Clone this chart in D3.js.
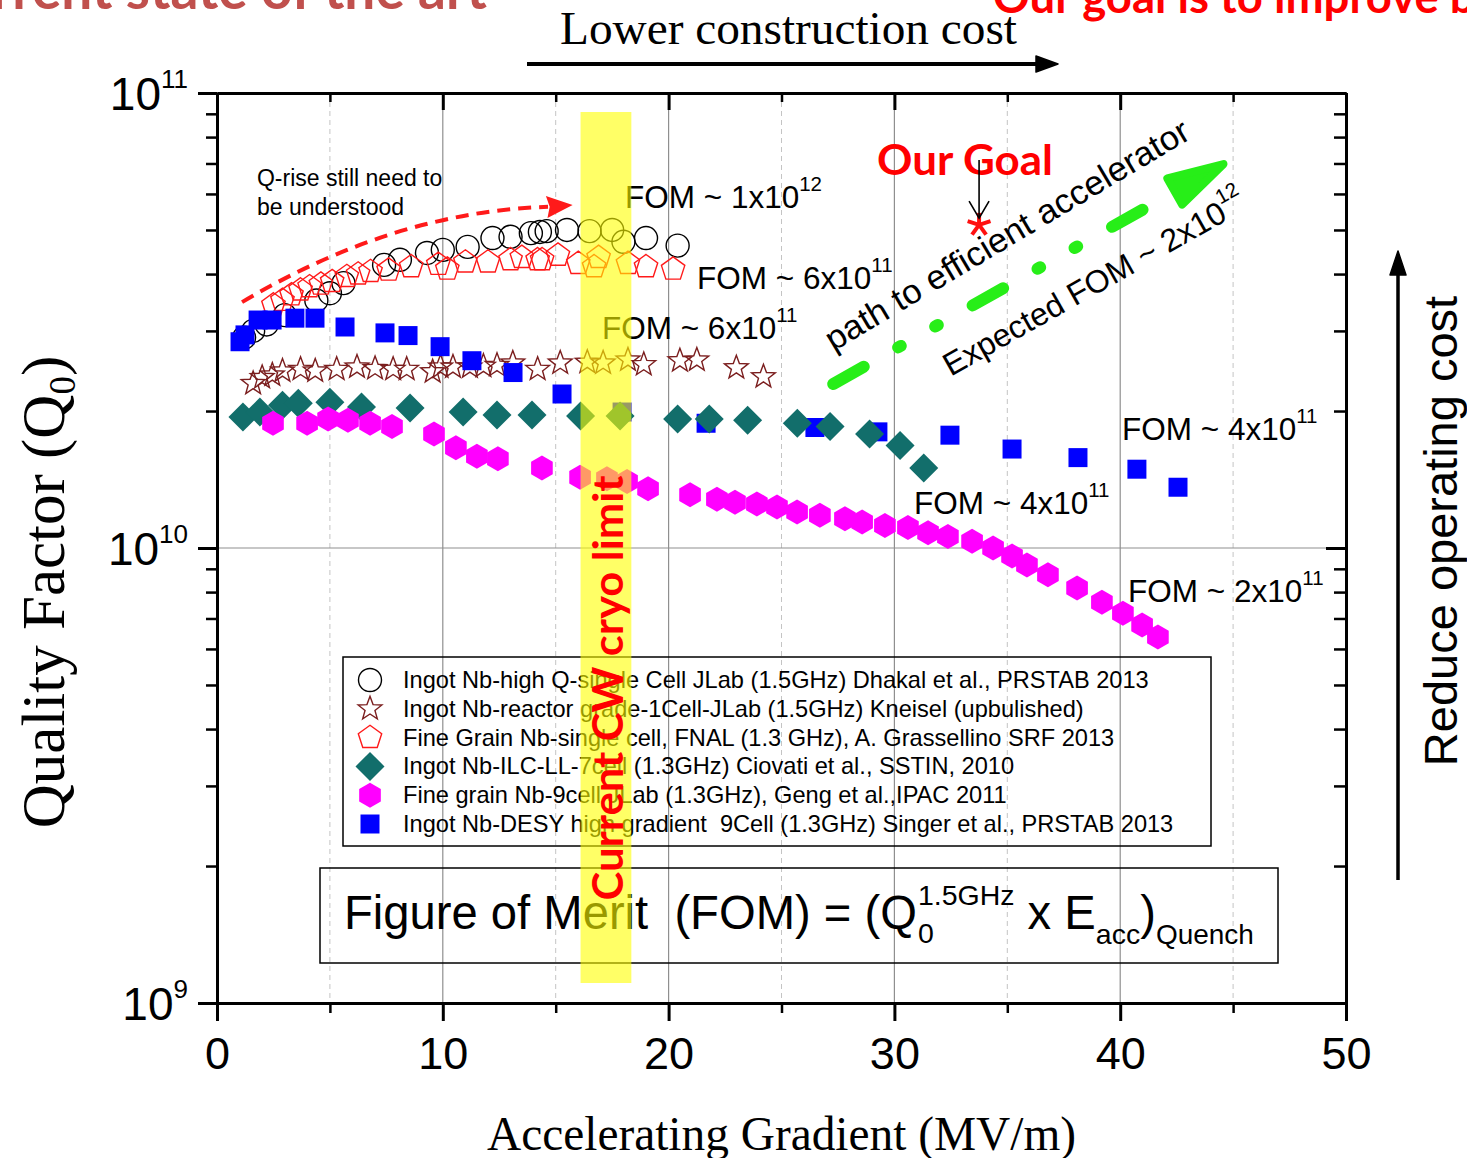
<!DOCTYPE html>
<html><head><meta charset="utf-8">
<script src="https://cdn.jsdelivr.net/npm/d3@7"></script>
<style>body{margin:0;background:#fff;overflow:hidden} svg{display:block}</style>
</head><body>
<svg id="c" width="1467" height="1158"></svg>
<script>
// ---------------- DATA ----------------
const dhakalX = [1.2, 1.6, 2.2, 3.0, 4.4, 5.0, 5.6, 7.4, 8.1, 9.3, 10.0, 11.1, 12.2, 13.0, 13.9, 14.3, 14.6, 15.5, 16.5, 17.5, 18.0, 19.0, 20.4];
const dhakalQ = [2.9e10, 3.0e10, 3.1e10, 3.25e10, 3.5e10, 3.63e10, 3.82e10, 4.19e10, 4.3e10, 4.45e10, 4.52e10, 4.59e10, 4.8e10, 4.83e10, 4.92e10, 4.95e10, 4.97e10, 5.0e10, 4.97e10, 5.0e10, 4.71e10, 4.8e10, 4.62e10];

const grassX = [2.5, 2.9, 3.3, 3.7, 4.1, 4.6, 5.1, 5.75, 6.25, 6.8, 7.6, 8.6, 9.8, 10.2, 11.0, 12.0, 13.0, 13.5, 14.2, 14.4, 15.1, 16.0, 16.7, 16.9, 18.2, 19.0, 20.2];
const grassQ = [3.42e10, 3.5e10, 3.6e10, 3.69e10, 3.75e10, 3.8e10, 3.85e10, 3.95e10, 4.0e10, 4.05e10, 4.08e10, 4.15e10, 4.2e10, 4.1e10, 4.25e10, 4.25e10, 4.3e10, 4.35e10, 4.3e10, 4.3e10, 4.4e10, 4.22e10, 4.15e10, 4.35e10, 4.22e10, 4.15e10, 4.1e10];

const kneiselX = [1.6, 2.0, 2.45, 2.9, 3.7, 4.35, 5.3, 6.2, 7.0, 7.8, 8.4, 9.55, 9.9, 10.45, 11.2, 11.8, 12.4, 13.1, 14.2, 15.2, 16.4, 17.1, 18.2, 18.9, 20.5, 21.25, 23.0, 24.2];
const kneiselQ = [2.3e10, 2.37e10, 2.4e10, 2.45e10, 2.47e10, 2.45e10, 2.47e10, 2.5e10, 2.48e10, 2.47e10, 2.47e10, 2.44e10, 2.5e10, 2.5e10, 2.5e10, 2.51e10, 2.52e10, 2.55e10, 2.47e10, 2.55e10, 2.56e10, 2.55e10, 2.59e10, 2.53e10, 2.58e10, 2.59e10, 2.49e10, 2.38e10];

const ciovatiX = [1.15, 1.9, 2.9, 3.6, 5.0, 6.4, 8.55, 10.9, 12.4, 13.95, 16.1, 17.85, 20.4, 21.8, 23.5, 25.7, 27.15, 28.9, 30.25, 31.3];
const ciovatiQ = [1.94e10, 1.99e10, 2.06e10, 2.08e10, 2.09e10, 2.04e10, 2.03e10, 1.99e10, 1.96e10, 1.96e10, 1.95e10, 1.95e10, 1.92e10, 1.92e10, 1.91e10, 1.88e10, 1.85e10, 1.78e10, 1.68e10, 1.50e10];

const gengX = [2.48, 3.99, 4.92, 5.8, 6.78, 7.75, 9.61, 10.58, 11.51, 12.44, 14.39, 16.08, 17.27, 18.16, 19.09, 20.95, 22.14, 22.94, 23.91, 24.8, 25.69, 26.7, 27.81, 28.57, 29.58, 30.6, 31.49, 32.37, 33.44, 34.37, 35.21, 35.87, 36.8, 38.09, 39.19, 40.12, 40.97, 41.67];
const gengQ = [1.88e10, 1.88e10, 1.92e10, 1.91e10, 1.88e10, 1.85e10, 1.78e10, 1.66e10, 1.59e10, 1.57e10, 1.50e10, 1.43e10, 1.42e10, 1.40e10, 1.35e10, 1.31e10, 1.28e10, 1.26e10, 1.25e10, 1.23e10, 1.20e10, 1.18e10, 1.16e10, 1.14e10, 1.12e10, 1.11e10, 1.08e10, 1.06e10, 1.035e10, 1.0e10, 9.6e9, 9.18e9, 8.73e9, 8.17e9, 7.6e9, 7.19e9, 6.77e9, 6.37e9];

const singerX = [1.02, 1.24, 1.82, 2.44, 3.45, 4.34, 5.67, 7.44, 8.46, 9.88, 11.29, 13.11, 15.28, 17.94, 21.66, 26.48, 29.27, 32.46, 35.21, 38.13, 40.74, 42.56];
const singerQ = [2.84e10, 2.94e10, 3.17e10, 3.17e10, 3.2e10, 3.2e10, 3.06e10, 2.97e10, 2.93e10, 2.77e10, 2.58e10, 2.43e10, 2.18e10, 1.99e10, 1.88e10, 1.84e10, 1.80e10, 1.77e10, 1.65e10, 1.58e10, 1.49e10, 1.36e10];

const goalX = [33.75];
const goalQ = [5.13e10];

const legendLabels = [
  "Ingot Nb-high Q-single Cell JLab (1.5GHz) Dhakal et al., PRSTAB 2013",
  "Ingot Nb-reactor grade-1Cell-JLab (1.5GHz) Kneisel (upbulished)",
  "Fine Grain Nb-single cell, FNAL (1.3 GHz), A. Grassellino SRF 2013",
  "Ingot Nb-ILC-LL-7cell (1.3GHz) Ciovati et al., SSTIN, 2010",
  "Fine grain Nb-9cell JLab (1.3GHz), Geng et al.,IPAC 2011",
  "Ingot Nb-DESY high gradient  9Cell (1.3GHz) Singer et al., PRSTAB 2013"
];
const legendShapes = ["circle", "star", "pentagon", "diamond", "hexagon", "square"];

const xTickLabels = [0, 10, 20, 30, 40, 50];
const xMinorTicks = [5, 15, 25, 35, 45];
const yTickExponents = [9, 10, 11];

// FOM annotation labels: gradient, Q at baseline, mantissa, exponent
const fomLabelX = [18.07, 21.26, 17.05, 40.08, 30.87, 40.35];
const fomLabelQ = [5.59e10, 3.71e10, 2.88e10, 1.73e10, 1.19e10, 7.61e9];
const fomMantissa = ["1x10", "6x10", "6x10", "4x10", "4x10", "2x10"];
const fomExponent = ["12", "11", "11", "11", "11", "11"];

// ---------------- SETUP ----------------
const svg = d3.select("#c");
const SANS = "'Liberation Sans', Arial, sans-serif";
const SERIF = "'Liberation Serif', 'Times New Roman', serif";
const CAL = "Lato, 'Open Sans', sans-serif";

const x = d3.scaleLinear().domain([0, 50]).range([217, 1346]);
const y = d3.scaleLog().domain([1e9, 1e11]).range([1003, 93]);

const colors = {
  circle: "#000000", star: "#7b1e1e", pentagon: "#ff1a1a",
  diamond: "#126e6b", hexagon: "#ff00ff", square: "#0000ff"
};

function polyPath(n, R, rot) {
  const pts = d3.range(n).map(i => {
    const a = rot + i * 2 * Math.PI / n;
    return [R * Math.sin(a), -R * Math.cos(a)];
  });
  return "M" + pts.map(p => p.join(",")).join("L") + "Z";
}
function starPath(R, r) {
  const pts = d3.range(10).map(i => {
    const a = i * Math.PI / 5;
    const rr = i % 2 ? r : R;
    return [rr * Math.sin(a), -rr * Math.cos(a)];
  });
  return "M" + pts.map(p => p.join(",")).join("L") + "Z";
}
const shapePath = {
  circle: null,
  star: starPath(12.5, 5.2),
  pentagon: polyPath(5, 12.3, 0),
  diamond: polyPath(4, 14.5, 0),
  hexagon: polyPath(6, 12.5, 0),
  square: "M-9.5,-9.5L9.5,-9.5L9.5,9.5L-9.5,9.5Z"
};
function drawMarker(g, shape, cx, cy) {
  const c = colors[shape];
  const filled = (shape === "diamond" || shape === "hexagon" || shape === "square");
  let m;
  if (shape === "circle") {
    m = g.append("circle").attr("cx", cx).attr("cy", cy).attr("r", 11.5);
  } else {
    m = g.append("path").attr("d", shapePath[shape]).attr("transform", `translate(${cx},${cy})`);
  }
  if (filled) m.attr("fill", c).attr("stroke", "none");
  else m.attr("fill", "none").attr("stroke", c).attr("stroke-width", 1.4);
}

// ---------------- GRID ----------------
const grid = svg.append("g");
xMinorTicks.forEach(v => grid.append("line")
  .attr("x1", x(v)).attr("x2", x(v)).attr("y1", y(1e11)).attr("y2", y(1e9))
  .attr("stroke", "#c4c4c4").attr("stroke-width", 1).attr("stroke-dasharray", "5,4"));
xTickLabels.slice(1, -1).forEach(v => grid.append("line")
  .attr("x1", x(v)).attr("x2", x(v)).attr("y1", y(1e11)).attr("y2", y(1e9))
  .attr("stroke", "#8f8f8f").attr("stroke-width", 1.2));
grid.append("line").attr("x1", x(0)).attr("x2", x(50)).attr("y1", y(1e10)).attr("y2", y(1e10))
  .attr("stroke", "#8f8f8f").attr("stroke-width", 1.2);

// ---------------- DATA MARKS ----------------
const series = [
  { xs: dhakalX, qs: dhakalQ, shape: "circle" },
  { xs: grassX, qs: grassQ, shape: "pentagon" },
  { xs: kneiselX, qs: kneiselQ, shape: "star" },
  { xs: singerX, qs: singerQ, shape: "square" },
  { xs: ciovatiX, qs: ciovatiQ, shape: "diamond" },
  { xs: gengX, qs: gengQ, shape: "hexagon" }
];
const marks = svg.append("g");
series.forEach(s => {
  const g = marks.append("g");
  s.xs.forEach((v, i) => drawMarker(g, s.shape, x(v), y(s.qs[i])));
});

// goal asterisk
goalX.forEach((v, i) => {
  const cx = x(v), cy = y(goalQ[i]);
  const g = svg.append("g").attr("transform", `translate(${cx},${cy})`);
  [0, 72, 144, 216, 288].forEach(a => {
    const r = a * Math.PI / 180;
    g.append("line").attr("x1", 0).attr("y1", 0)
      .attr("x2", 12 * Math.sin(r)).attr("y2", -12 * Math.cos(r))
      .attr("stroke", "#ff1010").attr("stroke-width", 4);
  });
});

// ---------------- LEGEND ----------------
const lg = svg.append("g");
lg.append("rect").attr("x", 343).attr("y", 657).attr("width", 868).attr("height", 189)
  .attr("fill", "none").attr("stroke", "#000").attr("stroke-width", 1.5);
legendLabels.forEach((t, i) => {
  const cy = 680 + i * 28.8;
  drawMarker(lg, legendShapes[i], 370, cy);
  lg.append("text").attr("x", 403).attr("y", cy + 8)
    .style("font-family", SANS).style("font-size", "23.6px").style("white-space", "pre")
    .text(t);
});

// ---------------- FORMULA BOX ----------------
const fb = svg.append("g");
fb.append("rect").attr("x", 320).attr("y", 868).attr("width", 958).attr("height", 95)
  .attr("fill", "none").attr("stroke", "#000").attr("stroke-width", 1.5);
(function () {
  let cx = 344; const by = 929;
  function put(txt, fs, dy, xx) {
    const t = fb.append("text").attr("x", xx).attr("y", by + dy)
      .style("font-family", SANS).style("font-size", fs + "px").style("white-space", "pre").text(txt);
    return t.node().getComputedTextLength();
  }
  cx += put("Figure of Merit  (FOM) = (Q", 47.2, 0, cx);
  const w0 = put("0", 28.5, 14, cx + 1);
  const w1 = put("1.5GHz", 28.5, -24, cx + 1);
  cx += Math.max(w0, w1) + 1;
  cx += put(" x E", 47.2, 0, cx);
  cx += put("acc", 28.5, 15, cx);
  cx += put(")", 47.2, 0, cx);
  put("Quench", 28, 15, cx);
})();

// ---------------- ANNOTATIONS ----------------
const an = svg.append("g");
an.append("text").attr("x", x(1.77)).attr("y", y(6.25e10)).style("font-family", SANS).style("font-size", "23px").text("Q-rise still need to");
an.append("text").attr("x", x(1.77)).attr("y", y(5.4e10)).style("font-family", SANS).style("font-size", "23px").text("be understood");
{
  const p0 = [x(1.11), y(3.47e10)], p1 = [x(7.9), y(5.5e10)], p2 = [x(14.66), y(5.62e10)], tip = [x(15.75), y(5.67e10)];
  an.append("path").attr("d", `M${p0}Q${p1} ${p2}`).attr("fill", "none")
    .attr("stroke", "#ff1a1a").attr("stroke-width", 4).attr("stroke-dasharray", "13,8");
  const dx = tip[0] - p2[0], dy = tip[1] - p2[1], L = Math.hypot(dx, dy);
  const ux = dx / L, uy = dy / L;
  const b = [tip[0] - 26 * ux, tip[1] - 26 * uy];
  an.append("path").attr("d", `M${tip}L${b[0] - 11 * uy},${b[1] + 11 * ux}L${b[0] + 3 * ux},${b[1] + 3 * uy}L${b[0] + 11 * uy},${b[1] - 11 * ux}Z`)
    .attr("fill", "#ff1a1a");
}
fomLabelX.forEach((v, i) => {
  const t = an.append("text").attr("x", x(v)).attr("y", y(fomLabelQ[i]))
    .style("font-family", SANS).style("font-size", "31.5px").style("white-space", "pre");
  t.append("tspan").text("FOM ~ " + fomMantissa[i]);
  t.append("tspan").attr("dy", -17).style("font-size", "20.5px").text(fomExponent[i]);
});
an.append("text").attr("x", x(29.23)).attr("y", y(6.6e10))
  .style("font-family", CAL).style("font-weight", "bold").style("font-size", "42px")
  .attr("fill", "#ff0000").attr("textLength", 176).attr("lengthAdjust", "spacingAndGlyphs").text("Our Goal");
{
  const ax = x(33.75), a1 = y(7.12e10), a2 = y(5.31e10);
  an.append("line").attr("x1", ax).attr("x2", ax).attr("y1", a1).attr("y2", a2).attr("stroke", "#000").attr("stroke-width", 1.6);
  an.append("path").attr("d", `M${ax - 10},${a2 - 17}L${ax},${a2}L${ax + 10},${a2 - 17}`).attr("fill", "none").attr("stroke", "#000").attr("stroke-width", 1.6);
}
{
  const A = [x(27.06), y(2.26e10)], T = [x(44.73), y(7.05e10)];
  const dx = T[0] - A[0], dy = T[1] - A[1], L = Math.hypot(dx, dy);
  const u = [dx / L, dy / L], n = [-u[1], u[0]];
  const s = [A[0] + 6 * u[0], A[1] + 6 * u[1]], e = [A[0] + 361 * u[0], A[1] + 361 * u[1]];
  an.append("path").attr("d", `M${s}L${e}`).attr("stroke", "#27ee18").attr("stroke-width", 12)
    .attr("stroke-linecap", "round").attr("stroke-dasharray", "35,39.5,3,39.5,3,40");
  const tip = [T[0] - 4 * u[0], T[1] - 4 * u[1]];
  const B = [T[0] - 60 * u[0], T[1] - 60 * u[1]];
  an.append("path").attr("d", `M${tip}L${B[0] + 15 * n[0]},${B[1] + 15 * n[1]}L${B[0] - 15 * n[0]},${B[1] - 15 * n[1]}Z`)
    .attr("fill", "#27ee18").attr("stroke", "#27ee18").attr("stroke-width", 8).attr("stroke-linejoin", "round");
}
an.append("text").attr("transform", `translate(${x(27.3)},${y(2.7e10)}) rotate(-30.8)`)
  .style("font-family", SANS).style("font-size", "34px").attr("textLength", 418).attr("lengthAdjust", "spacingAndGlyphs")
  .text("path to efficient accelerator");
{
  const t = an.append("text").attr("transform", `translate(${x(32.5)},${y(2.38e10)}) rotate(-29.5)`)
    .style("font-family", SANS).style("font-size", "32px").style("white-space", "pre");
  t.append("tspan").text("Expected FOM ~ 2x10");
  t.append("tspan").attr("dy", -17).style("font-size", "20.5px").text("12");
}

// ---------------- AXES ----------------
const axG = svg.append("g");
function styleAxis(g, w) {
  g.select(".domain").attr("stroke-width", 3).attr("stroke", "#000");
  g.selectAll(".tick line").attr("stroke-width", w).attr("stroke", "#000");
}
const yMinor = [];
[1e9, 1e10].forEach(d => { for (let k = 2; k <= 9; k++) yMinor.push(k * d); });
const yMajor = yTickExponents.map(e => Math.pow(10, e));
axG.append("g").attr("transform", `translate(${x(0)},0)`).call(d3.axisLeft(y).tickValues(yMinor).tickSize(11).tickSizeOuter(0).tickFormat("")).call(g => styleAxis(g, 2.5));
axG.append("g").attr("transform", `translate(${x(0)},0)`).call(d3.axisLeft(y).tickValues(yMajor).tickSize(19).tickSizeOuter(0).tickFormat("")).call(g => styleAxis(g, 3));
axG.append("g").attr("transform", `translate(${x(50)},0)`).call(d3.axisLeft(y).tickValues(yMinor).tickSize(12).tickSizeOuter(0).tickFormat("")).call(g => styleAxis(g, 2.5));
axG.append("g").attr("transform", `translate(${x(50)},0)`).call(d3.axisLeft(y).tickValues(yMajor).tickSize(20).tickSizeOuter(0).tickFormat("")).call(g => styleAxis(g, 3));
axG.append("g").attr("transform", `translate(0,${y(1e11)})`).call(d3.axisBottom(x).tickValues(xMinorTicks).tickSize(9).tickSizeOuter(0).tickFormat("")).call(g => styleAxis(g, 2.5));
axG.append("g").attr("transform", `translate(0,${y(1e11)})`).call(d3.axisBottom(x).tickValues(xTickLabels).tickSize(17).tickSizeOuter(0).tickFormat("")).call(g => styleAxis(g, 3));
axG.append("g").attr("transform", `translate(0,${y(1e9)})`).call(d3.axisBottom(x).tickValues(xMinorTicks).tickSize(10).tickSizeOuter(0).tickFormat("")).call(g => styleAxis(g, 2.5));
axG.append("g").attr("transform", `translate(0,${y(1e9)})`).call(d3.axisBottom(x).tickValues(xTickLabels).tickSize(18).tickSizeOuter(0).tickPadding(16).tickFormat(d3.format("d")))
  .call(g => styleAxis(g, 3))
  .call(g => g.selectAll("text").style("font-family", SANS).style("font-size", "45px").attr("fill", "#000"));
yTickExponents.forEach(e => {
  const t = axG.append("text").attr("x", 188).attr("y", y(Math.pow(10, e)) + 17)
    .attr("text-anchor", "end").style("font-family", SANS).style("font-size", "46px");
  t.append("tspan").text("10");
  t.append("tspan").attr("dy", -22).style("font-size", "26px").text(String(e));
});

// ---------------- TITLES ----------------
svg.append("text").attr("x", x(25) - 0).attr("y", 1150).attr("text-anchor", "middle")
  .style("font-family", SERIF).style("font-size", "48px").attr("textLength", 589).attr("lengthAdjust", "spacingAndGlyphs")
  .text("Accelerating Gradient (MV/m)");
{
  const t = svg.append("text").attr("transform", "translate(64,592) rotate(-90)").attr("text-anchor", "middle")
    .style("font-family", SERIF).style("font-size", "61px");
  t.append("tspan").text("Quality Factor (Q");
  t.append("tspan").attr("dy", 11).style("font-size", "37px").text("0");
  t.append("tspan").attr("dy", -11).text(")");
}
svg.append("text").attr("x", 560).attr("y", 44)
  .style("font-family", SERIF).style("font-size", "46px").attr("textLength", 457).attr("lengthAdjust", "spacingAndGlyphs")
  .text("Lower construction cost");
svg.append("line").attr("x1", 527).attr("x2", 1042).attr("y1", 64).attr("y2", 64).attr("stroke", "#000").attr("stroke-width", 4);
svg.append("path").attr("d", "M1036,56L1058,64L1036,72Z").attr("fill", "#000").attr("stroke", "#000").attr("stroke-width", 1.5).attr("stroke-linejoin", "round");

svg.append("text").attr("transform", "translate(1457,531) rotate(-90)").attr("text-anchor", "middle")
  .style("font-family", SANS).style("font-size", "47px").text("Reduce operating cost");
svg.append("line").attr("x1", 1398).attr("x2", 1398).attr("y1", 880).attr("y2", 268).attr("stroke", "#000").attr("stroke-width", 3.5);
svg.append("path").attr("d", "M1390,275L1398,251L1406,275Z").attr("fill", "#000").attr("stroke", "#000").attr("stroke-width", 1.5).attr("stroke-linejoin", "round");

svg.append("text").attr("x", 487).attr("y", 9).attr("text-anchor", "end")
  .style("font-family", CAL).style("font-weight", "bold").style("font-size", "55px").attr("fill", "#c0504d")
  .text("Current state of the art");
svg.append("text").attr("x", 993).attr("y", 13)
  .style("font-family", CAL).style("font-weight", "bold").style("font-size", "45.5px").attr("fill", "#ff0000")
  .text("Our goal is to improve both");

// ---------------- CRYO LIMIT BAND ----------------
svg.append("rect").attr("x", x(16.1)).attr("y", 112).attr("width", x(18.35) - x(16.1)).attr("height", 871)
  .attr("fill", "#ffff00").attr("fill-opacity", 0.6);
svg.append("text").attr("transform", "translate(623,688) rotate(-90)").attr("text-anchor", "middle")
  .style("font-family", CAL).style("font-weight", "bold").style("font-size", "42px").attr("fill", "#ff0000")
  .attr("textLength", 425).attr("lengthAdjust", "spacingAndGlyphs")
  .text("Current CW cryo limit");
</script>
</body></html>
